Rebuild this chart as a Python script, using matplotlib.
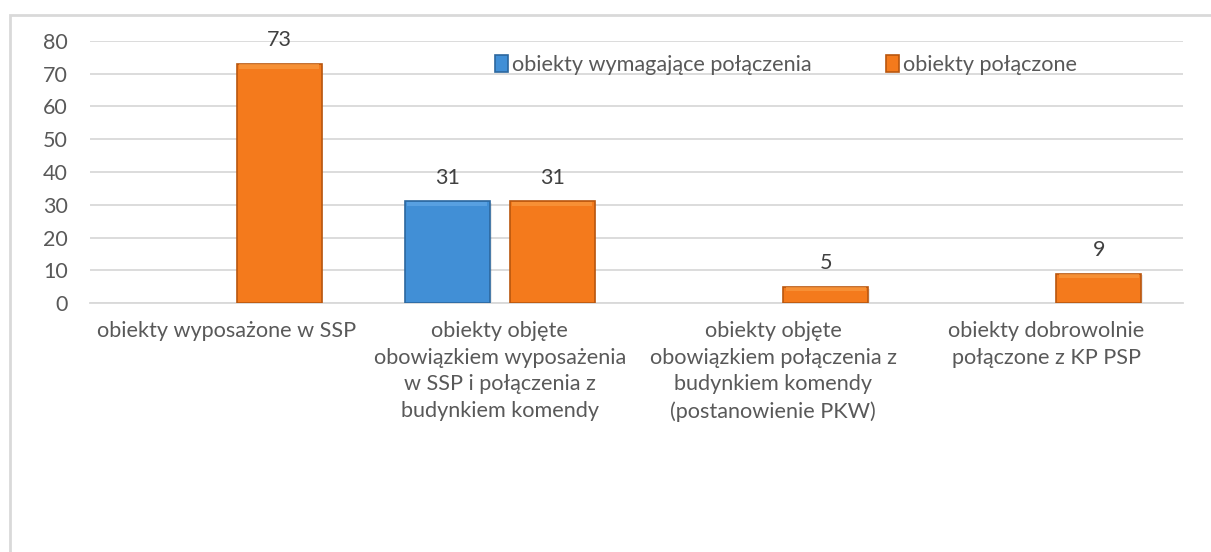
import matplotlib

matplotlib.use("Agg")

import matplotlib.pyplot as plt
from matplotlib.patches import Rectangle
import numpy as np

# data
categories = [
    "obiekty wyposażone w SSP",
    "obiekty objęte\nobowiązkiem wyposażenia\nw SSP i połączenia z\nbudynkiem komendy",
    "obiekty objęte\nobowiązkiem połączenia z\nbudynkiem komendy\n(postanowienie PKW)",
    "obiekty dobrowolnie\npołączone z KP PSP",
]
series_names = ["obiekty wymagające połączenia", "obiekty połączone"]
required = [np.nan, 31, np.nan, np.nan]
connected = [73, 31, 5, 9]
y_ticks = [0, 10, 20, 30, 40, 50, 60, 70, 80]

plt.rcParams["font.family"] = ["Lato", "DejaVu Sans"]

W, H = 1211, 552
fig = plt.figure(figsize=(W / 100, H / 100), dpi=100)

# outer chart frame (clipped on the right / bottom like the source)
fig.patches.append(Rectangle((10 / W, -0.1), 1.2, (H - 15) / H + 0.1,
                             transform=fig.transFigure, fill=False,
                             edgecolor="#d9d9d9", linewidth=2))

ax = fig.add_axes([90 / W, (H - 303) / H, (1183 - 90) / W, (303 - 41) / H])

x = np.arange(len(categories))
bw = 0.311
off = 0.192

# face, edge, highlight
styles = [
    ("#418fd6", "#2c679e", "#62a8e6"),
    ("#f47a1c", "#b9560e", "#f99a40"),
]

for vals, shift, (fc, ec, hc), name in zip([required, connected], [-off, off], styles, series_names):
    vals = np.array(vals, dtype=float)
    # soft shadow under bars
    ax.bar(x + shift + 0.006, vals, bw, bottom=-0.6, color="#000000", alpha=0.08, zorder=2)
    ax.bar(x + shift, vals, bw, color=fc, edgecolor=ec, linewidth=1.2,
           label=name, zorder=3)
    # bevel highlight along the top edge
    hl = np.minimum(vals, 1.3)
    ax.bar(x + shift, hl, bw * 0.94, bottom=vals - hl - 0.1,
           color=hc, linewidth=0, alpha=0.7, zorder=4)
    for xi, v in zip(x + shift, vals):
        if np.isnan(v):
            continue
        ax.annotate(f"{v:g}", (xi, v), xytext=(0, 17), textcoords="offset points",
                    ha="center", va="center", fontsize=15.5, color="#404040")

ax.set_xlim(-0.5, 3.5)
ax.set_ylim(0, 80)
ax.set_yticks(y_ticks)
ax.set_xticks(x)
ax.set_xticklabels(categories, fontsize=15.6, color="#595959", linespacing=1.42)
ax.tick_params(axis="y", length=0, pad=16, labelsize=15.5, labelcolor="#595959")
ax.tick_params(axis="x", length=0, pad=13)

ax.grid(axis="y", color="#d9d9d9", linewidth=1.3, zorder=0)
ax.set_axisbelow(True)
for s in ["top", "right", "left"]:
    ax.spines[s].set_visible(False)
ax.spines["bottom"].set_color("#d9d9d9")
ax.spines["bottom"].set_linewidth(1.3)

ax.legend(
    frameon=False,
    fontsize=15.6,
    loc="center left",
    bbox_to_anchor=((495 - 90) / (1183 - 90), (303 - 65) / (303 - 41)),
    ncol=2,
    handlelength=0.6,
    handleheight=0.8,
    handletextpad=0.2,
    columnspacing=3.4,
    labelcolor="#595959",
    borderaxespad=0,
    borderpad=0,
)

fig.savefig("out.png", dpi=100, facecolor="white")
